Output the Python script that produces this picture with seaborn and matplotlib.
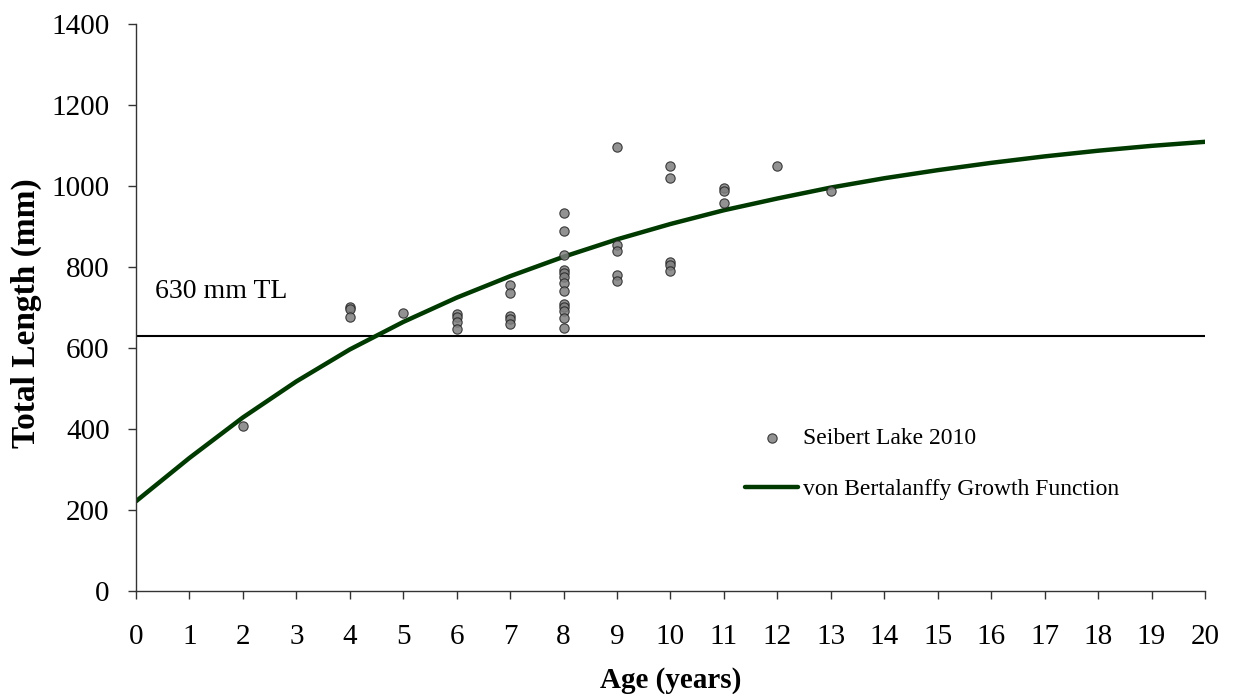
import matplotlib
matplotlib.use("Agg")
import matplotlib.pyplot as plt
import seaborn as sns
import pandas as pd

# Observed data (Seibert Lake 2010)
obs_age = [2, 4, 4, 4, 5, 6, 6, 6, 6, 7, 7, 7, 7, 7,
           8, 8, 8, 8, 8, 8, 8, 8, 8, 8, 8, 8, 8,
           9, 9, 9, 9, 9, 10, 10, 10, 10, 10, 11, 11, 11, 12, 13]
obs_len = [408, 702, 696, 675, 687, 684, 677, 663, 647, 755, 735, 679, 671, 659,
           933, 889, 830, 793, 784, 775, 760, 741, 709, 700, 690, 673, 649,
           1097, 854, 840, 780, 765, 1049, 1020, 811, 805, 789, 994, 988, 958, 1049, 988]

# von Bertalanffy growth curve
vb_age = list(range(0, 21))
vb_len = [221, 328, 428, 517, 596, 664, 724, 777, 825, 868, 906, 940, 969, 996,
          1019, 1039, 1057, 1073, 1087, 1099, 1109]

threshold = 630
y_ticks = [0, 200, 400, 600, 800, 1000, 1200, 1400]
x_ticks = list(range(0, 21))

obs = pd.DataFrame({"Age": obs_age, "Length": obs_len})
vb = pd.DataFrame({"Age": vb_age, "Length": vb_len})

sns.set_style("ticks")
plt.rcParams["font.family"] = ["Liberation Serif", "DejaVu Serif"]
plt.rcParams["text.color"] = "black"
plt.rcParams["xtick.labelcolor"] = "black"
plt.rcParams["ytick.labelcolor"] = "black"
plt.rcParams["axes.labelcolor"] = "black"

fig = plt.figure(figsize=(12.34, 6.94), dpi=100)
ax = fig.add_axes([0.1102, 0.1488, 0.8663, 0.8166])

ax.axhline(threshold, color="black", lw=1.5, zorder=1)
sns.lineplot(data=vb, x="Age", y="Length", ax=ax, color="#003a00", lw=3.2,
             label="von Bertalanffy Growth Function", zorder=2)
sns.scatterplot(data=obs, x="Age", y="Length", ax=ax, color="#7f7f7f",
                edgecolor="#222222", linewidth=0.8, s=45, alpha=0.85,
                label="Seibert Lake 2010", zorder=3)

ax.text(0.355, 723, "630 mm TL", fontsize=20, ha="left", va="baseline",
        color="black")

ax.set_xlim(0, 20)
ax.set_ylim(0, 1400)
ax.set_xticks(x_ticks)
ax.set_yticks(y_ticks)
ax.tick_params(axis="both", direction="out", length=6, width=1, labelsize=21,
               color="#333333", labelcolor="black")
ax.tick_params(axis="x", pad=18)
ax.tick_params(axis="y", pad=13)
for s in ["top", "right"]:
    ax.spines[s].set_visible(False)
for s in ["left", "bottom"]:
    ax.spines[s].set_color("#333333")
    ax.spines[s].set_linewidth(1)

ax.set_xlabel("Age (years)", fontsize=21, fontweight="bold", labelpad=12,
              color="black")
ax.set_ylabel("Total Length (mm)", fontsize=24, fontweight="bold",
              color="black")
ax.yaxis.set_label_coords(-0.088, 0.49)

h, l = ax.get_legend_handles_labels()
order = [l.index("Seibert Lake 2010"), l.index("von Bertalanffy Growth Function")]
leg = ax.legend([h[i] for i in order], [l[i] for i in order], frameon=False,
                loc="upper left", bbox_to_anchor=(0.561, 0.305), fontsize=17,
                handlelength=2.25, handletextpad=0.2, labelspacing=1.25,
                borderaxespad=0, labelcolor="black")

fig.savefig("out.png", dpi=100)
